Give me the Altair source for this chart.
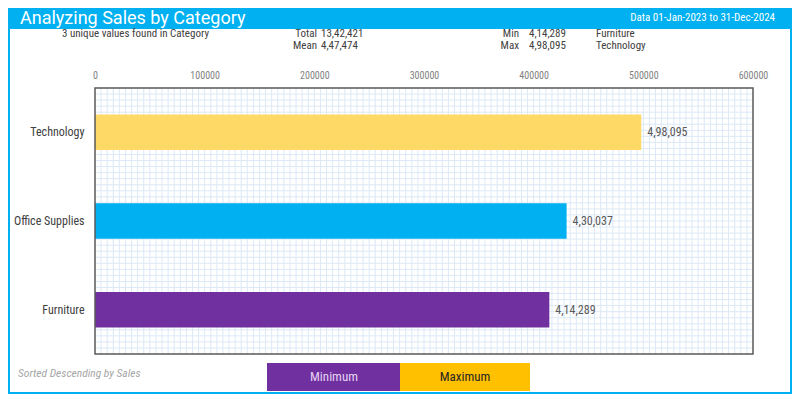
import altair as alt
import pandas as pd

# data
categories = ["Technology", "Office Supplies", "Furniture"]
sales = [498095, 430037, 414289]
bar_colors = ["#FFD966", "#00B0F0", "#7030A0"]
x_ticks = [0, 100000, 200000, 300000, 400000, 500000, 600000]
date_range = "Data 01-Jan-2023 to 31-Dec-2024"

NARROW = "Liberation Sans Narrow, Arial Narrow, Roboto Condensed, DejaVu Sans Condensed, sans-serif"
W, H = 658, 266


def inr(v):
    # Indian digit grouping: 13,42,421
    s = str(int(round(v)))
    last3, rest = s[-3:], s[:-3]
    groups = []
    while len(rest) > 2:
        groups.insert(0, rest[-2:])
        rest = rest[:-2]
    if rest:
        groups.insert(0, rest)
    return ",".join(groups + [last3])


df = pd.DataFrame({"Category": categories, "Sales": sales})
df["label"] = df["Sales"].apply(inr)

total = df["Sales"].sum()
mean = df["Sales"].mean()
i_min = df["Sales"].idxmin()
i_max = df["Sales"].idxmax()

x_axis = alt.Axis(
    orient="top",
    values=x_ticks,
    format="d",
    title=None,
    ticks=False,
    domain=False,
    grid=False,
    labelFlush=False,
    labelPadding=8,
    labelFont=NARROW,
    labelFontSize=10,
    labelColor="#7f7f7f",
)
x_scale = alt.Scale(domain=[0, 600000], nice=False)

# pale cell grid behind the bars (edges left to the frame)
grid_v = pd.DataFrame({"gx": [600000 / 108 * i for i in range(1, 108)]})
grid_h = pd.DataFrame({"gy": list(range(1, 44))})

vlines = (
    alt.Chart(grid_v)
    .mark_rule(color="#DCE9F6", strokeWidth=1)
    .encode(x=alt.X("gx:Q", scale=x_scale, axis=x_axis))
)
hlines = (
    alt.Chart(grid_h)
    .mark_rule(color="#DCE9F6", strokeWidth=1)
    .encode(y=alt.Y("gy:Q", scale=alt.Scale(domain=[0, 44], nice=False), axis=None))
)

cat_y = alt.Y(
    "Category:N",
    sort="-x",
    scale=alt.Scale(paddingInner=0.6, paddingOuter=0.3),
    axis=alt.Axis(
        title=None,
        ticks=False,
        domain=False,
        grid=False,
        labelPadding=11,
        labelFont=NARROW,
        labelFontSize=12,
        labelColor="#404040",
    ),
)

bars = (
    alt.Chart(df)
    .mark_bar()
    .encode(
        x=alt.X("Sales:Q", scale=x_scale, axis=x_axis),
        y=cat_y,
        color=alt.Color(
            "Category:N",
            scale=alt.Scale(domain=categories, range=bar_colors),
            legend=None,
        ),
    )
)

values = (
    alt.Chart(df)
    .mark_text(align="left", baseline="middle", dx=6, font=NARROW, fontSize=12, color="#595959")
    .encode(
        x=alt.X("Sales:Q", scale=x_scale, axis=x_axis),
        y=cat_y,
        text="label:N",
    )
)

bar_layer = alt.layer(bars, values)

one = pd.DataFrame({"k": [0]})


def box(x, x2, y, y2, **kw):
    return (
        alt.Chart(one)
        .mark_rect(**kw)
        .encode(x=alt.value(x), x2=alt.value(x2), y=alt.value(y), y2=alt.value(y2))
    )


def note(txt, x, y, **kw):
    style = dict(font=NARROW, fontSize=11, color="#404040", baseline="middle", align="left")
    style.update(kw)
    return (
        alt.Chart(one)
        .mark_text(**style)
        .encode(x=alt.value(x), y=alt.value(y), text=alt.value(txt))
    )


plot_frame = box(0, W, 0, H, fill=None, stroke="#595959", strokeWidth=1.5)
frame = box(-86, 696, -80, 305, fill=None, stroke="#00B0F0", strokeWidth=2)
header = box(-87, 697, -80, -59, fill="#00B0F0")
title = note("Analyzing Sales by Category", -75, -69, font="Roboto", fontSize=18, color="white")
dates = note(date_range, 680, -70, align="right", color="white")

info = [
    note(f"{len(categories)} unique values found in Category", -33, -54),
    note("Total", 222, -54, align="right"),
    note(inr(total), 226, -54),
    note("Mean", 222, -42, align="right"),
    note(inr(mean), 226, -42),
    note("Min", 424, -54, align="right"),
    note(inr(df.loc[i_min, "Sales"]), 434, -54),
    note(df.loc[i_min, "Category"], 501, -54),
    note("Max", 424, -42, align="right"),
    note(inr(df.loc[i_max, "Sales"]), 434, -42),
    note(df.loc[i_max, "Category"], 501, -42),
]

footer = [
    note("Sorted Descending by Sales", -77, 286, fontSize=11.5, fontStyle="italic", color="#A6A6A6"),
    box(172, 305, 275, 303, fill="#7030A0"),
    box(305, 435, 275, 303, fill="#FFC000"),
    note("Minimum", 239, 289, align="center", fontSize=13, color="#E4D4F2"),
    note("Maximum", 370, 289, align="center", fontSize=13, color="#262626"),
]

chart = (
    alt.layer(vlines, hlines, bar_layer, plot_frame, frame, header, title, dates, *info, *footer)
    .resolve_scale(y="independent")
    .properties(
        width=W,
        height=H,
        autosize=alt.AutoSizeParams(type="none"),
        padding={"left": 87, "top": 80, "right": 39, "bottom": 40},
        background="white",
    )
    .configure_view(stroke=None)
)

chart.save("out.html", embed_options={"renderer": "svg", "actions": False})
